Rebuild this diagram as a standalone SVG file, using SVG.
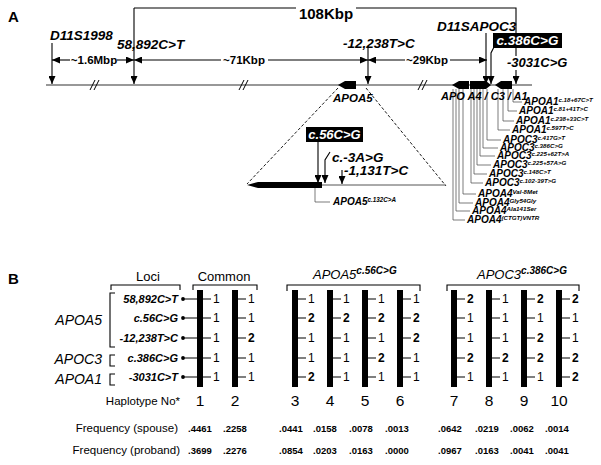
<svg xmlns="http://www.w3.org/2000/svg" width="601" height="465" viewBox="0 0 601 465">
<defs>
<style>
text{font-family:"Liberation Sans",Arial,sans-serif;fill:#000}
.bi{font-weight:bold;font-style:italic}
.b{font-weight:bold}
.it{font-style:italic}
.L{font-size:13.5px}
.dim{font-size:11.5px;font-weight:bold}
.ld{font-size:10px}
.sp{font-size:6.2px}
.ln{stroke:#000;stroke-width:1.1;fill:none}
.gl{stroke:#444;stroke-width:0.7;fill:none}
.dash{stroke:#000;stroke-width:0.9;fill:none;stroke-dasharray:3,2}
.v{font-size:12px}
.v2{font-size:12px;font-weight:bold}
.fq{font-size:9.5px;font-weight:bold;text-anchor:middle}
.hn{font-size:15.5px;text-anchor:middle}
.wt{fill:#fff}
</style>
<marker id="ah" viewBox="0 0 8 7" refX="8" refY="3.5" markerWidth="8" markerHeight="7" markerUnits="userSpaceOnUse" orient="auto-start-reverse"><path d="M0,0 L8,3.5 L0,7 z" fill="#000"/></marker>
</defs>
<rect width="601" height="465" fill="#fff"/>

<!-- Panel A -->
<g id="panelA-label"><text x="8" y="22" class="b" font-size="15">A</text></g>

<g id="chromosome">
<path d="M46,85 H532" stroke="#333" stroke-width="1.1"/>
<path d="M90,90 L95,80 M94,90 L99,80 M239,90 L244,80 M243,90 L248,80 M418,90 L423,80 M422,90 L427,80" stroke="#000" stroke-width="1"/>
</g>

<g id="connectors">
<path class="ln" d="M134,8 H296 M356,8 H516 V56"/>
<path class="ln" d="M134,8 V84" marker-end="url(#ah)"/>
<path class="ln" d="M52,43 V84" marker-end="url(#ah)"/>
<path class="ln" d="M368,46 V84" marker-end="url(#ah)"/>
<path class="ln" d="M486,33 V84" marker-end="url(#ah)"/>
<path class="ln" d="M494,47 L491,53 V84" marker-end="url(#ah)"/>
<path class="ln" d="M516,70 V84" marker-end="url(#ah)"/>
<path class="ln" d="M70,60 H52" marker-end="url(#ah)"/>
<path class="ln" d="M117,60 H134" marker-end="url(#ah)"/>
<path class="ln" d="M221,60 H134" marker-end="url(#ah)"/>
<path class="ln" d="M268,60 H368" marker-end="url(#ah)"/>
<path class="ln" d="M405,60 H368" marker-end="url(#ah)"/>
<path class="ln" d="M450,60 H487" marker-end="url(#ah)"/>
<path class="dash" d="M338,88 L247,184 M366,88 L446,186"/>
<path class="ln" d="M318,142 V183" marker-end="url(#ah)"/>
<path class="ln" d="M330,152 L325,160 V183" marker-end="url(#ah)"/>
<path class="ln" d="M342,170 V184" marker-end="url(#ah)"/>
<path class="gl" d="M315,188 V202 H330"/>
<path class="gl" d="M513,89 V102 H522 M508,89 V111 H517 M503,89 V121 H514 M498,89 V130 H510 M487,89 V140 H501 M483,89 V148 H498 M480,89 V156 H495 M477,89 V165 H491 M474,89 V174 H487 M471,89 V183 H483 M463,89 V194 H476 M459,89 V203 H473 M456,89 V211 H470 M453,89 V220 H465"/>
</g>

<g id="labels-top">
<text x="326" y="19" class="b" font-size="15" text-anchor="middle">108Kbp</text>
<text x="50" y="40" class="bi L">D11S1998</text>
<text x="117" y="49" class="bi L">58,892C&gt;T</text>
<text x="343" y="48" class="bi L">-12,238T&gt;C</text>
<text x="437" y="31" class="bi L">D11SAPOC3</text>
<text x="507" y="67" class="bi" font-size="13">-3031C&gt;G</text>
<text x="94" y="64" class="dim" text-anchor="middle">~1.6Mbp</text>
<text x="244" y="64" class="dim" text-anchor="middle">~71Kbp</text>
<text x="427" y="64" class="dim" text-anchor="middle">~29Kbp</text>
</g>

<g id="box-c386">
<rect x="493" y="33" width="69" height="15" fill="#000"/>
<text x="527.5" y="45" class="bi L wt" text-anchor="middle">c.386C&gt;G</text>
</g>

<g id="gene-APOA5">
<path d="M338,85 L345,81 H356 V89 H345 Z" fill="#000"/>
<text x="333" y="102" class="bi" font-size="11.5">APOA5</text>
</g>

<g id="gene-cluster">
<path d="M452,85 L459,81 H469 V89 H459 Z" fill="#000"/>
<path d="M470,81 H486 L491,85 L486,89 H470 Z" fill="#000"/>
<path d="M495,85 L501,81 H512 V89 H501 Z" fill="#000"/>
<text x="441" y="100" class="bi" font-size="11">APO A4 / C3 / A1</text>
</g>

<g id="variant-labels" class="bi ld">
<text x="524" y="105">APOA1<tspan dy="-3" class="sp">c.18+67C&gt;T</tspan></text>
<text x="519" y="114">APOA1<tspan dy="-3" class="sp">c.81+41T&gt;C</tspan></text>
<text x="516" y="124">APOA1<tspan dy="-3" class="sp">c.238+33C&gt;T</tspan></text>
<text x="512" y="133">APOA1<tspan dy="-3" class="sp">c.597T&gt;C</tspan></text>
<text x="503" y="143">APOC3<tspan dy="-3" class="sp">c.417G&gt;T</tspan></text>
<text x="500" y="151">APOC3<tspan dy="-3" class="sp">c.386C&gt;G</tspan></text>
<text x="497" y="159">APOC3<tspan dy="-3" class="sp">c.225+62T&gt;A</tspan></text>
<text x="493" y="168">APOC3<tspan dy="-3" class="sp">c.225+57A&gt;G</tspan></text>
<text x="489" y="177">APOC3<tspan dy="-3" class="sp">c.148C&gt;T</tspan></text>
<text x="485" y="186">APOC3<tspan dy="-3" class="sp">c.102-39T&gt;G</tspan></text>
<text x="478" y="197">APOA4<tspan dy="-3" class="sp">Val-8Met</tspan></text>
<text x="475" y="206">APOA4<tspan dy="-3" class="sp">Gly54Gly</tspan></text>
<text x="472" y="214">APOA4<tspan dy="-3" class="sp">Ala141Ser</tspan></text>
<text x="467" y="223">APOA4<tspan dy="-3" class="sp">(CTGT)VNTR</tspan></text>
</g>

<g id="magnified-APOA5">
<path d="M322,185 H446" stroke="#555" stroke-width="1"/>
<path d="M247,185 L258,182 H322 V188 H258 Z" fill="#000"/>
<rect x="306" y="127" width="57" height="15" fill="#000"/>
<text x="334.5" y="139" class="bi wt" font-size="13" text-anchor="middle">c.56C&gt;G</text>
<text x="332" y="162" class="bi L">c.-3A&gt;G</text>
<text x="344" y="175" class="bi L">-1,131T&gt;C</text>
<text x="333" y="205" class="bi" font-size="10">APOA5<tspan dy="-3.5" font-size="6.3">c.132C&gt;A</tspan></text>
</g>

<!-- Panel B -->
<g id="panelB-label"><text x="8" y="284" class="b" font-size="15">B</text></g>

<g id="headers">
<text x="148" y="281" font-size="13" text-anchor="middle">Loci</text>
<path class="ln" d="M111,290 V285 H180 V290" stroke-width="0.9"/>
<text x="224" y="281" font-size="13" text-anchor="middle">Common</text>
<path class="ln" d="M193,290 V285 H257 V290" stroke-width="0.9"/>
<text x="313" y="279" class="it" font-size="13">APOA5<tspan dy="-5" font-size="10" class="bi">c.56C&gt;G</tspan></text>
<path class="ln" d="M287,291 V285 H420 V291" stroke-width="0.9"/>
<text x="477" y="279" class="it" font-size="13">APOC3<tspan dy="-5" font-size="10" class="bi">c.386C&gt;G</tspan></text>
<path class="ln" d="M447,291 V285 H579 V291" stroke-width="0.9"/>
</g>

<g id="loci">
<text x="102" y="325" class="it" font-size="14" text-anchor="end">APOA5</text>
<text x="102" y="364" class="it" font-size="14" text-anchor="end">APOC3</text>
<text x="102" y="384" class="it" font-size="14" text-anchor="end">APOA1</text>
<path class="ln" d="M115,293 H110 V347 H115 M115,355 H110 V366 H115 M115,374 H110 V385 H115" stroke-width="0.9"/>
<g class="bi" font-size="11" text-anchor="end">
<text x="178" y="303">58,892C&gt;T</text>
<text x="178" y="322">c.56C&gt;G</text>
<text x="178" y="342">-12,238T&gt;C</text>
<text x="178" y="362">c.386C&gt;G</text>
<text x="178" y="381">-3031C&gt;T</text>
</g>
<g fill="#000">
<circle cx="183" cy="299" r="1.9"/><circle cx="183" cy="318" r="1.9"/><circle cx="183" cy="338" r="1.9"/><circle cx="183" cy="358" r="1.9"/><circle cx="183" cy="377" r="1.9"/>
</g>
<path class="ln" d="M183,299 H197 M183,318 H197 M183,338 H197 M183,358 H197 M183,377 H197" stroke-width="0.9"/>
</g>

<g id="haplotypes">
<g fill="#000">
<rect x="197" y="290" width="6" height="97"/>
<rect x="232" y="290" width="6" height="97"/>
<rect x="292" y="290" width="6" height="97"/>
<rect x="327" y="290" width="6" height="97"/>
<rect x="362" y="290" width="6" height="97"/>
<rect x="397" y="290" width="6" height="97"/>
<rect x="451" y="290" width="6" height="97"/>
<rect x="486" y="290" width="6" height="97"/>
<rect x="521" y="290" width="6" height="97"/>
<rect x="556" y="290" width="6" height="97"/>
</g>
<path class="ln" stroke-width="0.9" d="M203,299h8M203,318h8M203,338h8M203,358h8M203,377h8
M238,299h8M238,318h8M238,338h8M238,358h8M238,377h8
M298,299h8M298,318h8M298,338h8M298,358h8M298,377h8
M333,299h8M333,318h8M333,338h8M333,358h8M333,377h8
M368,299h8M368,318h8M368,338h8M368,358h8M368,377h8
M403,299h8M403,318h8M403,338h8M403,358h8M403,377h8
M457,299h8M457,318h8M457,338h8M457,358h8M457,377h8
M492,299h8M492,318h8M492,338h8M492,358h8M492,377h8
M527,299h8M527,318h8M527,338h8M527,358h8M527,377h8
M562,299h8M562,318h8M562,338h8M562,358h8M562,377h8"/>
<!-- H1 -->
<text x="213" y="303" class="v">1</text><text x="213" y="322" class="v">1</text><text x="213" y="342" class="v">1</text><text x="213" y="362" class="v">1</text><text x="213" y="381" class="v">1</text>
<!-- H2 -->
<text x="248" y="303" class="v">1</text><text x="248" y="322" class="v">1</text><text x="248" y="342" class="v2">2</text><text x="248" y="362" class="v">1</text><text x="248" y="381" class="v">1</text>
<!-- H3 -->
<text x="308" y="303" class="v">1</text><text x="308" y="322" class="v2">2</text><text x="308" y="342" class="v">1</text><text x="308" y="362" class="v">1</text><text x="308" y="381" class="v2">2</text>
<!-- H4 -->
<text x="343" y="303" class="v">1</text><text x="343" y="322" class="v2">2</text><text x="343" y="342" class="v">1</text><text x="343" y="362" class="v">1</text><text x="343" y="381" class="v">1</text>
<!-- H5 -->
<text x="378" y="303" class="v">1</text><text x="378" y="322" class="v2">2</text><text x="378" y="342" class="v">1</text><text x="378" y="362" class="v2">2</text><text x="378" y="381" class="v">1</text>
<!-- H6 -->
<text x="413" y="303" class="v">1</text><text x="413" y="322" class="v2">2</text><text x="413" y="342" class="v2">2</text><text x="413" y="362" class="v">1</text><text x="413" y="381" class="v">1</text>
<!-- H7 -->
<text x="467" y="303" class="v2">2</text><text x="467" y="322" class="v">1</text><text x="467" y="342" class="v">1</text><text x="467" y="362" class="v2">2</text><text x="467" y="381" class="v">1</text>
<!-- H8 -->
<text x="502" y="303" class="v">1</text><text x="502" y="322" class="v">1</text><text x="502" y="342" class="v">1</text><text x="502" y="362" class="v2">2</text><text x="502" y="381" class="v">1</text>
<!-- H9 -->
<text x="537" y="303" class="v2">2</text><text x="537" y="322" class="v">1</text><text x="537" y="342" class="v2">2</text><text x="537" y="362" class="v2">2</text><text x="537" y="381" class="v">1</text>
<!-- H10 -->
<text x="572" y="303" class="v2">2</text><text x="572" y="322" class="v">1</text><text x="572" y="342" class="v">1</text><text x="572" y="362" class="v2">2</text><text x="572" y="381" class="v2">2</text>
</g>

<g id="haplotype-numbers">
<text x="180" y="405" font-size="11.5" text-anchor="end">Haplotype No*</text>
<text x="200" y="406" class="hn">1</text><text x="235" y="406" class="hn">2</text><text x="295" y="406" class="hn">3</text><text x="330" y="406" class="hn">4</text><text x="365" y="406" class="hn">5</text><text x="400" y="406" class="hn">6</text><text x="454" y="406" class="hn">7</text><text x="489" y="406" class="hn">8</text><text x="524" y="406" class="hn">9</text><text x="559" y="406" class="hn">10</text>
</g>

<g id="freq-spouse">
<text x="178" y="432" font-size="11.5" text-anchor="end">Frequency (spouse)</text>
<text x="200" y="432" class="fq">.4461</text><text x="235" y="432" class="fq">.2258</text><text x="291" y="432" class="fq">.0441</text><text x="325" y="432" class="fq">.0158</text><text x="361" y="432" class="fq">.0078</text><text x="397" y="432" class="fq">.0013</text><text x="450" y="432" class="fq">.0642</text><text x="487" y="432" class="fq">.0219</text><text x="522" y="432" class="fq">.0062</text><text x="557" y="432" class="fq">.0014</text>
</g>

<g id="freq-proband">
<text x="180" y="454" font-size="11.5" text-anchor="end">Frequency (proband)</text>
<text x="200" y="454" class="fq">.3699</text><text x="235" y="454" class="fq">.2276</text><text x="291" y="454" class="fq">.0854</text><text x="325" y="454" class="fq">.0203</text><text x="361" y="454" class="fq">.0163</text><text x="397" y="454" class="fq">.0000</text><text x="450" y="454" class="fq">.0967</text><text x="487" y="454" class="fq">.0163</text><text x="522" y="454" class="fq">.0041</text><text x="557" y="454" class="fq">.0041</text>
</g>
</svg>
